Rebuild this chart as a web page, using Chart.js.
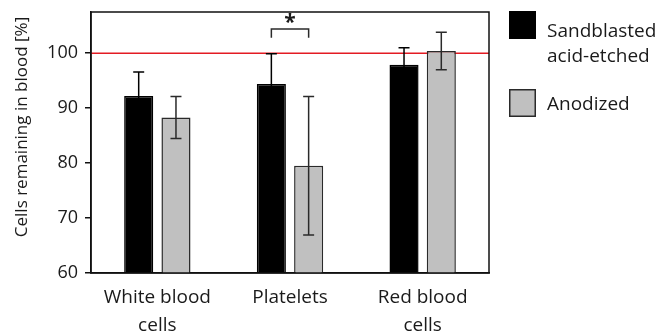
<!DOCTYPE html>
<html>
<head>
<meta charset="utf-8">
<script src="https://cdn.jsdelivr.net/npm/chart.js@4"></script>
<style>
html,body{margin:0;padding:0;background:#fff;}
#wrap{width:660px;height:335px;position:relative;}
</style>
</head>
<body>
<div id="wrap"><canvas id="c" width="660" height="335"></canvas></div>
<script>
const categories = [['White blood', 'cells'], 'Platelets', ['Red blood', 'cells']];
const seriesLabels = [['Sandblasted', 'acid-etched'], ['Anodized']];
const sandblasted = [92.2, 94.4, 97.9];
const sandblastedErr = [4.4, 5.5, 3.1];
const anodized = [88.3, 79.5, 100.4];
const anodizedErr = [3.8, 12.6, 3.4];
const yTicks = [60, 70, 80, 90, 100];
const referenceValue = 100;
const yTitle = 'Cells remaining in blood [%]';
// significance: category index 1 (Platelets), bracket height & leg bottom (in %)
const sigCategory = 1;
const sigBracket = [104.4, 102.8];
const sigLabel = '*';

const FONT = "'Open Sans', 'DejaVu Sans', sans-serif";
const TXT = '#1a1a1a';

const errors = [sandblastedErr, anodizedErr];
const errColors = ['#000000', '#2a2a2a'];

const overlayPlugin = {
  id: 'overlay',
  beforeDatasetsDraw(chart) {
    const {ctx, chartArea: a, scales: {y}} = chart;
    const py = y.getPixelForValue(referenceValue);
    ctx.save();
    ctx.strokeStyle = '#e31b23';
    ctx.lineWidth = 1.6;
    ctx.beginPath();
    ctx.moveTo(a.left, py);
    ctx.lineTo(a.right, py);
    ctx.stroke();
    ctx.restore();
  },
  afterDatasetsDraw(chart) {
    const {ctx, chartArea: a, scales: {y}} = chart;
    ctx.save();
    ctx.lineWidth = 1.5;
    chart.data.datasets.forEach((ds, di) => {
      const meta = chart.getDatasetMeta(di);
      ctx.strokeStyle = errColors[di];
      meta.data.forEach((bar, i) => {
        const v = ds.data[i], e = errors[di][i];
        const x = bar.x;
        const yt = y.getPixelForValue(v + e), yb = y.getPixelForValue(v - e);
        ctx.beginPath();
        ctx.moveTo(x, yt); ctx.lineTo(x, yb);
        ctx.moveTo(x - 5.5, yt); ctx.lineTo(x + 5.5, yt);
        ctx.moveTo(x - 5.5, yb); ctx.lineTo(x + 5.5, yb);
        ctx.stroke();
      });
    });
    // significance bracket
    ctx.strokeStyle = '#2a2a2a';
    const x1 = chart.getDatasetMeta(0).data[sigCategory].x;
    const x2 = chart.getDatasetMeta(1).data[sigCategory].x;
    const yb = y.getPixelForValue(sigBracket[0]);
    const yl = y.getPixelForValue(sigBracket[1]);
    ctx.beginPath();
    ctx.moveTo(x1, yl); ctx.lineTo(x1, yb); ctx.lineTo(x2, yb); ctx.lineTo(x2, yl);
    ctx.stroke();
    ctx.fillStyle = TXT;
    ctx.font = "bold 21px " + FONT;
    ctx.textAlign = 'center';
    ctx.textBaseline = 'middle';
    ctx.fillText(sigLabel, (x1 + x2) / 2, yb - 6);
    // frame
    ctx.strokeStyle = '#111';
    ctx.lineWidth = 1.5;
    ctx.strokeRect(a.left, a.top, a.right - a.left, a.bottom - a.top);
    ctx.restore();
  },
  afterDraw(chart) {
    const {ctx, chartArea: a} = chart;
    ctx.save();
    // y title
    ctx.fillStyle = TXT;
    ctx.font = "17px " + FONT;
    ctx.textAlign = 'center';
    ctx.textBaseline = 'middle';
    ctx.translate(22, 127);
    ctx.rotate(-Math.PI / 2);
    ctx.fillText(yTitle, 0, 0);
    ctx.restore();
    // legend
    ctx.save();
    ctx.font = "19px " + FONT;
    ctx.textAlign = 'left';
    ctx.textBaseline = 'alphabetic';
    const boxX = a.right + 20, txtX = a.right + 58;
    const boxTops = [11, 89];
    const baselines = [[37, 62], [110]];
    chart.data.datasets.forEach((ds, di) => {
      ctx.fillStyle = ds.backgroundColor;
      ctx.fillRect(boxX, boxTops[di], 27, 28);
      ctx.strokeStyle = ds.borderColor;
      ctx.lineWidth = 1.5;
      ctx.strokeRect(boxX + 0.75, boxTops[di] + 0.75, 25.5, 26.5);
      ctx.fillStyle = TXT;
      seriesLabels[di].forEach((line, li) => ctx.fillText(line, txtX, baselines[di][li]));
    });
    ctx.restore();
  }
};

new Chart(document.getElementById('c'), {
  type: 'bar',
  data: {
    labels: categories,
    datasets: [
      {label: seriesLabels[0].join(' '), data: sandblasted, backgroundColor: '#000000', borderColor: '#000000', borderWidth: 1.5},
      {label: seriesLabels[1].join(' '), data: anodized, backgroundColor: '#c0c0c0', borderColor: '#2a2a2a', borderWidth: 1.5}
    ]
  },
  options: {
    responsive: false,
    animation: false,
    categoryPercentage: 0.562,
    barPercentage: 0.78,
    layout: {padding: {top: 12, right: 171, left: 0, bottom: 0}},
    plugins: {legend: {display: false}, tooltip: {enabled: false}},
    scales: {
      x: {
        grid: {display: false, drawTicks: false},
        border: {display: true, color: '#111', width: 1.5},
        ticks: {color: TXT, font: {family: FONT, size: 19, lineHeight: 1.5}, padding: 10, maxRotation: 0, autoSkip: false},
        afterFit(s) { s.height = 62; s.paddingLeft = 0; s.paddingRight = 0; }
      },
      y: {
        min: 60, max: 107.5,
        grid: {display: true, drawOnChartArea: false, drawTicks: true, tickLength: 6, color: '#111', lineWidth: 1.5},
        border: {display: true, color: '#111', width: 1.5},
        ticks: {color: TXT, font: {family: FONT, size: 18}, padding: 7},
        afterBuildTicks(s) { s.ticks = yTicks.map(v => ({value: v})); },
        afterFit(s) { s.width = 91; s.paddingTop = 0; s.paddingBottom = 0; }
      }
    }
  },
  plugins: [overlayPlugin]
});
</script>
</body>
</html>
